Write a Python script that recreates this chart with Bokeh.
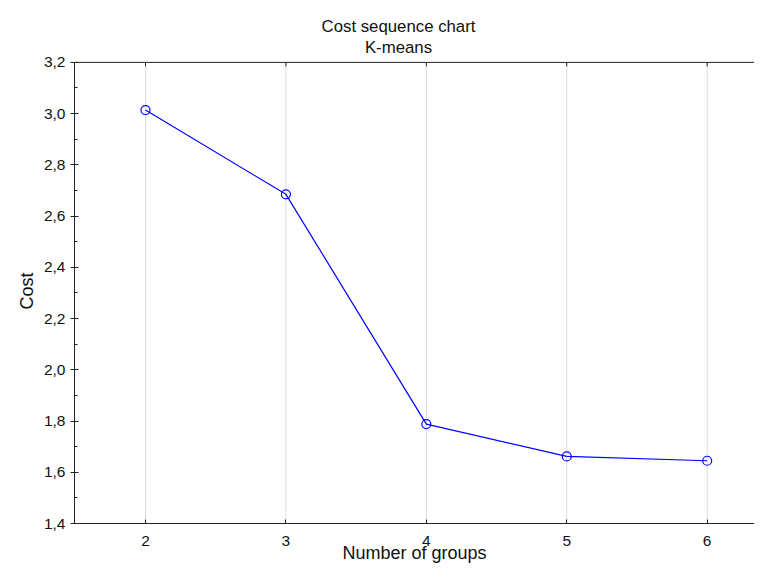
import math
from bokeh.plotting import figure
from bokeh.models import (Label, Title, LinearAxis, FixedTicker, Range1d, Span,
                          CustomJSTickFormatter)
from bokeh.embed import file_html
from bokeh.resources import INLINE

# ---- data ----
groups = [2, 3, 4, 5, 6]
cost = [3.014, 2.685, 1.788, 1.662, 1.645]
x_ticks = [2, 3, 4, 5, 6]
y_ticks = [1.4, 1.6, 1.8, 2.0, 2.2, 2.4, 2.6, 2.8, 3.0, 3.2]
y_minor = [1.5, 1.7, 1.9, 2.1, 2.3, 2.5, 2.7, 2.9, 3.1]
y_min, y_max = 1.4, 3.2
title_main = "Cost sequence chart"
title_sub = "K-means"
x_label = "Number of groups"
y_label = "Cost"

FONT = "Liberation Sans"
AX = "#222222"
TXT = "#111111"
GRID = "#dddddd"

# frame spans the full top area so the titles can live inside it;
# the plotted box runs from y_min to y_max (462 px), extra room above
PX_PER_UNIT = 462 / (y_max - y_min)
y_end = y_min + 524 / PX_PER_UNIT
tick_len = 4 / PX_PER_UNIT

p = figure(width=754, height=565, output_backend="svg", toolbar_location=None,
           x_range=Range1d(1.4944, 6.337), y_range=Range1d(y_min, y_end),
           x_axis_type=None, y_axis_type=None,
           min_border_left=74, min_border_right=0, min_border_top=0,
           min_border_bottom=41)
p.title = None
p.outline_line_color = None
p.background_fill_color = "white"
p.border_fill_color = "white"

xt = FixedTicker(ticks=x_ticks)
yt = FixedTicker(ticks=y_ticks, minor_ticks=y_minor)
fmt = CustomJSTickFormatter(code="return tick.toFixed(1).replace('.', ',');")

left = LinearAxis(ticker=yt, formatter=fmt, bounds=(y_min, y_max))
left.major_tick_in = 4
left.major_tick_out = 4
left.minor_tick_in = 3
left.minor_tick_out = 0
left.major_label_standoff = 5
p.add_layout(left, "left")

bottom = LinearAxis(ticker=xt, axis_label=x_label)
bottom.major_tick_in = 4
bottom.major_tick_out = 0
bottom.minor_tick_in = 0
bottom.minor_tick_out = 0
bottom.major_label_standoff = 12
bottom.axis_label_standoff = -6
p.add_layout(bottom, "below")

for ax in (left, bottom):
    ax.axis_line_color = AX
    ax.major_tick_line_color = AX
    ax.minor_tick_line_color = AX
    ax.major_label_text_font = FONT
    ax.major_label_text_color = TXT
    ax.major_label_text_font_size = "15.5px"
    ax.axis_label_text_font = FONT
    ax.axis_label_text_font_style = "normal"
    ax.axis_label_text_color = TXT
    ax.axis_label_text_font_size = "18px"

# y axis title, centred on the plotted box (not the whole frame)
p.add_layout(Title(text=y_label, align="left", offset=214,
                   vertical_align="bottom", text_font=FONT,
                   text_font_size="18px", text_font_style="normal",
                   text_color=TXT, standoff=8), "left")

# grid: horizontal via grid, vertical drawn only within the plotted box
p.xgrid.visible = False
p.ygrid.ticker = yt
p.ygrid.grid_line_color = GRID
p.segment(x0=x_ticks, y0=[y_min] * len(x_ticks), x1=x_ticks,
          y1=[y_max] * len(x_ticks), line_color=GRID, line_width=1)

# top frame line with inward ticks
p.add_layout(Span(location=y_max, dimension="width", line_color=AX,
                  line_width=1))
p.segment(x0=x_ticks, y0=[y_max] * len(x_ticks), x1=x_ticks,
          y1=[y_max - tick_len] * len(x_ticks), line_color=AX, line_width=1)

p.line(groups, cost, line_color="#0000ff", line_width=1.2)
p.scatter(groups, cost, marker="circle", size=9, fill_color=None,
          line_color="#0000ff", line_width=1.2)

# titles (screen units relative to the plot frame)
for txt, ypos in ((title_main, 497), (title_sub, 476)):
    p.add_layout(Label(x=324, y=ypos, x_units="screen", y_units="screen",
                       text=txt, text_align="center",
                       text_baseline="alphabetic", text_font=FONT,
                       text_font_size="16.8px", text_color=TXT))

open("out.html", "w").write(file_html(p, INLINE))
